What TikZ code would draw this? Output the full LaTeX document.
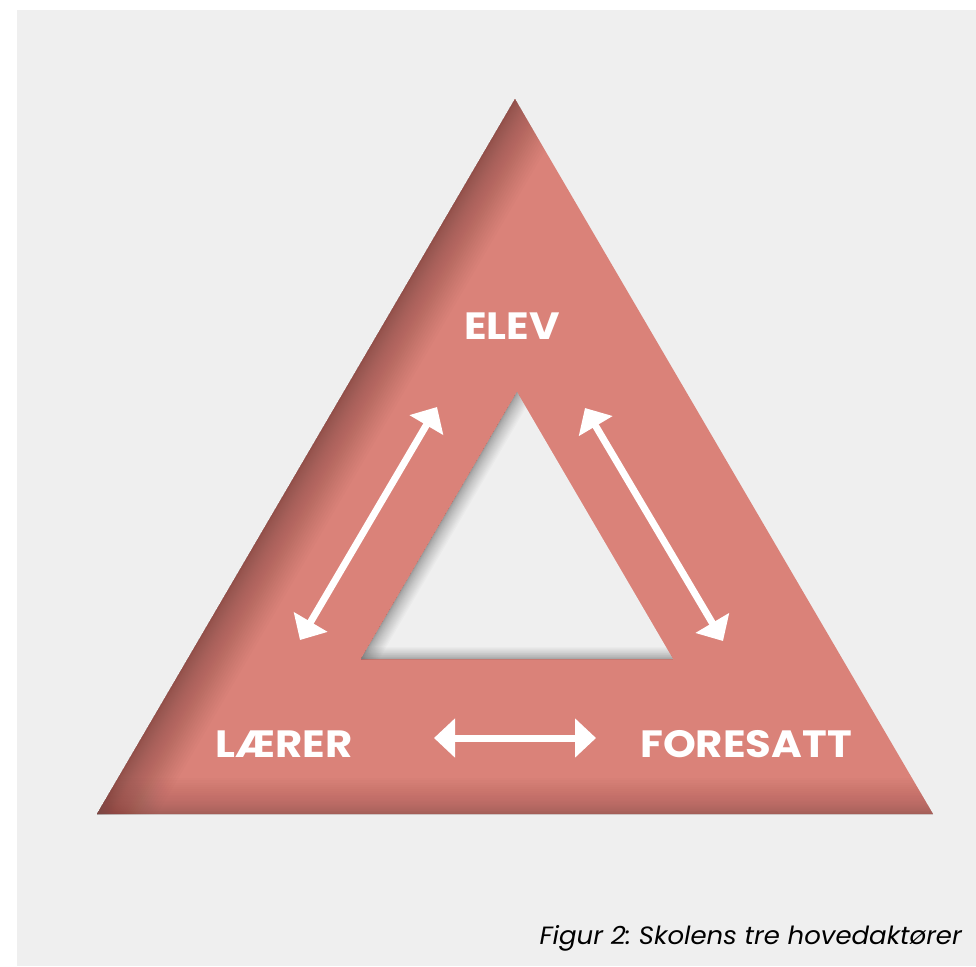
\documentclass[tikz,border=0pt]{standalone}
\usepackage{fontspec}
\usepackage{tikz}
\usetikzlibrary{calc, arrows.meta}

\newfontfamily\labelfont{Poppins}[FakeStretch=1.1]
\newfontfamily\capfont{Poppins}[FakeStretch=1.04]

\definecolor{paper}{HTML}{EFEFEF}
\definecolor{rosered}{HTML}{DA8279}
\definecolor{darkrose}{HTML}{7E4744}

\tikzset{
    actor/.style={text=white, font=\labelfont\bfseries\fontsize{38}{44}\selectfont,
        anchor=base, inner sep=0pt},
    link/.style={white, line width=7pt, {Triangle[length=21pt,width=38pt]}-{Triangle[length=21pt,width=38pt]}},
}

\begin{document}
\frenchspacing
\begin{tikzpicture}[x=1pt, y=-1pt]
    \useasboundingbox (0,0) rectangle (976,966);
    \fill[paper] (17,10) rectangle (976,966);

    % outer and inner corners
    \coordinate (A) at (515, 99);
    \coordinate (B) at (97, 814);
    \coordinate (C) at (933, 814);
    \coordinate (D) at (517, 392);
    \coordinate (E) at (361, 659);
    \coordinate (F) at (673, 659);

    \fill[rosered] (A) -- (B) -- (C) -- cycle;

    % soft inner shade on left and bottom sides
    \begin{scope}
        \clip (A) -- (B) -- (C) -- cycle;
        \foreach \i in {1,...,40}
            \draw[darkrose, line width=0.065*\i*\i pt, opacity=0.032]
                ($(A)!-0.2!(B)$) -- ($(B)!-0.2!(A)$);
        \foreach \i in {1,...,30}
            \draw[darkrose, line width=0.08*\i*\i pt, opacity=0.025]
                ($(B)!-0.2!(C)$) -- ($(C)!-0.2!(B)$);
    \end{scope}

    % the hole, with its own shade
    \fill[paper] (D) -- (E) -- (F) -- cycle;
    \begin{scope}
        \clip (D) -- (E) -- (F) -- cycle;
        \foreach \i in {1,...,25}
            \draw[black!60, line width=0.05*\i*\i pt, opacity=0.035]
                ($(D)!-0.2!(E)$) -- ($(E)!-0.2!(D)$);
        \foreach \i in {1,...,22}
            \draw[black!60, line width=0.05*\i*\i pt, opacity=0.035]
                ($(E)!-0.2!(F)$) -- ($(F)!-0.2!(E)$);
    \end{scope}

    \node[actor] (elev) at (512, 339) {ELEV};
    \node[actor] (laerer) at (284, 757) {LÆRER};
    \node[actor] (foresatt) at (746, 757) {FORESATT};

    % arrow ends
    \coordinate (lt) at (437, 407);
    \coordinate (lb) at (300, 640);
    \coordinate (rt) at (585, 408);
    \coordinate (rb) at (723, 641);
    \coordinate (bl) at (434, 738);
    \coordinate (br) at (596, 738);

    \draw[link] (lb) -- (lt);
    \draw[link] (rt) -- (rb);
    \draw[link] (bl) -- (br);

    \node[anchor=base east, inner sep=0pt,
        font=\capfont\itshape\fontsize{25}{28}\selectfont] (caption) at (962, 944)
        {Figur 2: Skolens tre hovedaktører};
\end{tikzpicture}
\end{document}
